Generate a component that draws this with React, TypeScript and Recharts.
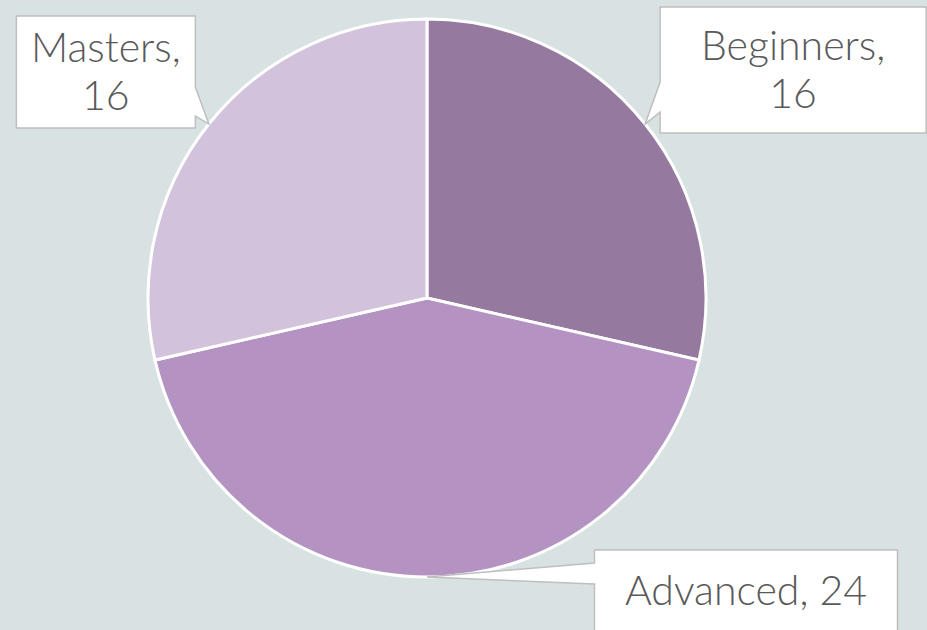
import { PieChart, Pie, Cell } from 'recharts';

const levels = ['Beginners', 'Advanced', 'Masters'];
const counts = [16, 24, 16];
const sliceColors = ['#95799f', '#b493c2', '#d3c2db'];

const data = levels.map((name, i) => ({ name, value: counts[i] }));

// callout box layout relative to the slice tip: box centre offset, size, text lines
const callouts = [
  { dx: 148, dy: -54, w: 266, h: 126, side: 'left', tailA: 75, tailB: 105, lines: ['Beginners,', '16'] },
  { dx: 319, dy: 14, w: 303, h: 82, side: 'left', tailA: 13, tailB: 34, lines: ['Advanced, 24'] },
  { dx: -103, dy: -52, w: 179, h: 112, side: 'right', tailA: 71, tailB: 100, lines: ['Masters,', '16'] },
];

const RAD = Math.PI / 180;

function renderCallout(props: any) {
  const { cx, cy, midAngle, outerRadius, index } = props;
  const c = callouts[index];
  const tx = cx + outerRadius * Math.cos(-midAngle * RAD);
  const ty = cy + outerRadius * Math.sin(-midAngle * RAD);
  const left = tx + c.dx - c.w / 2;
  const top = ty + c.dy - c.h / 2;
  const right = left + c.w;
  const bottom = top + c.h;
  const ya = top + c.tailA;
  const yb = top + c.tailB;
  const d =
    c.side === 'right'
      ? `M${left},${top} L${right},${top} L${right},${ya} L${tx},${ty} L${right},${yb} L${right},${bottom} L${left},${bottom} Z`
      : `M${left},${top} L${right},${top} L${right},${bottom} L${left},${bottom} L${left},${yb} L${tx},${ty} L${left},${ya} Z`;
  const lineH = 48;
  const midX = (left + right) / 2;
  const firstY = top + c.h / 2 - ((c.lines.length - 1) * lineH) / 2 - 2;
  return (
    <g key={`callout-${index}`}>
      <path d={d} fill="#ffffff" stroke="#bfbfbf" strokeWidth={1.5} />
      <text
        x={midX}
        y={firstY}
        textAnchor="middle"
        dominantBaseline="central"
        fill="#595959"
        fontSize={41}
        fontWeight={300}
        fontFamily="Lato, 'Noto Sans', sans-serif"
      >
        {c.lines.map((ln, i) => (
          <tspan key={i} x={midX} y={firstY + i * lineH}>
            {ln}
          </tspan>
        ))}
      </text>
    </g>
  );
}

export default function App() {
  return (
    <div style={{ position: 'absolute', left: 0, top: 0, width: 927, height: 630, background: '#d9e2e3', overflow: 'hidden' }}>
      <PieChart width={927} height={630} margin={{ top: 0, right: 0, bottom: 0, left: 0 }}>
        <Pie
          data={data}
          dataKey="value"
          nameKey="name"
          cx={427}
          cy={298}
          outerRadius={279}
          startAngle={90}
          endAngle={-270}
          stroke="#ffffff"
          strokeWidth={3}
          labelLine={false}
          label={renderCallout}
          isAnimationActive={false}
        >
          {data.map((d, i) => (
            <Cell key={d.name} fill={sliceColors[i]} />
          ))}
        </Pie>
      </PieChart>
    </div>
  );
}
